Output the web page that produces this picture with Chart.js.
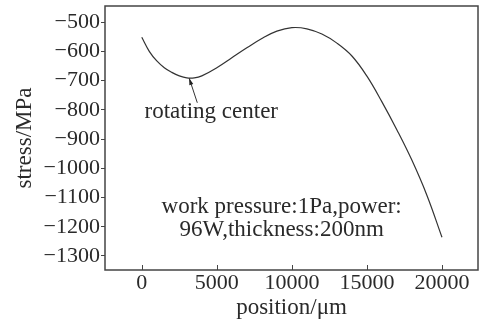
<!DOCTYPE html>
<html>
<head>
<meta charset="utf-8">
<script src="https://cdn.jsdelivr.net/npm/chart.js@4.4.1/dist/chart.umd.min.js"></script>
<style>
  html, body { margin: 0; padding: 0; background: #fff; }
  #wrap { width: 482px; height: 325px; }
</style>
</head>
<body>
<div id="wrap"><canvas id="c" width="482" height="325"></canvas></div>
<script>
const positions = [0, 500, 1000, 1500, 2000, 2500, 3000, 3500, 4000, 5000, 6000, 7000, 8000,
    9000, 10000, 11000, 12000, 13000, 14000, 15000, 16000, 17000, 18000, 19000, 20000];
const stress = [-552, -600, -633, -656, -672, -684, -691, -691, -684, -656, -622, -588, -556,
    -531, -519, -523, -541, -572, -616, -685, -773, -869, -973, -1093, -1236];
const xTicks = [0, 5000, 10000, 15000, 20000];
const yTicks = [-500, -600, -700, -800, -900, -1000, -1100, -1200, -1300];

// минимум кривой, хвост стрелки и подписи (в координатах данных)
const arrowHead = [3160, -692];
const arrowTail = [3700, -776];
const centerLabel = { text: 'rotating center', x: 4630, y: -807 };
const noteLines = ['work pressure:1Pa,power:', '96W,thickness:200nm'];
const noteX = 9320;
const noteY = [-1133, -1212];

const FONT = "'Liberation Serif', 'DejaVu Serif', serif";
const INK = '#2a2a2a';

Chart.defaults.font.family = FONT;
Chart.defaults.color = INK;

const decor = {
    id: 'decor',
    afterDraw(chart) {
        const ctx = chart.ctx;
        const a = chart.chartArea;
        const xs = chart.scales.x, ys = chart.scales.y;
        ctx.save();

        // рамка
        ctx.strokeStyle = '#444';
        ctx.lineWidth = 1.5;
        ctx.strokeRect(a.left, a.top, a.right - a.left, a.bottom - a.top);

        // засечки оси X внутрь
        ctx.lineWidth = 1;
        ctx.beginPath();
        xTicks.forEach(v => {
            const px = Math.round(xs.getPixelForValue(v)) + 0.5;
            ctx.moveTo(px, a.bottom);
            ctx.lineTo(px, a.bottom - 5);
        });
        ctx.stroke();

        // стрелка
        const hx = xs.getPixelForValue(arrowHead[0]), hy = ys.getPixelForValue(arrowHead[1]);
        const tx = xs.getPixelForValue(arrowTail[0]), ty = ys.getPixelForValue(arrowTail[1]);
        ctx.strokeStyle = '#333';
        ctx.lineWidth = 1;
        ctx.beginPath();
        ctx.moveTo(tx, ty);
        ctx.lineTo(hx, hy);
        ctx.stroke();
        const ang = Math.atan2(hy - ty, hx - tx);
        ctx.fillStyle = '#222';
        ctx.beginPath();
        ctx.moveTo(hx, hy);
        ctx.lineTo(hx - 7 * Math.cos(ang - 0.3), hy - 7 * Math.sin(ang - 0.3));
        ctx.lineTo(hx - 7 * Math.cos(ang + 0.3), hy - 7 * Math.sin(ang + 0.3));
        ctx.closePath();
        ctx.fill();

        // подписи
        ctx.fillStyle = INK;
        ctx.font = '23px ' + FONT;
        ctx.textAlign = 'center';
        ctx.textBaseline = 'middle';
        ctx.fillText(centerLabel.text, xs.getPixelForValue(centerLabel.x), ys.getPixelForValue(centerLabel.y));
        noteLines.forEach((t, i) => {
            ctx.fillText(t, xs.getPixelForValue(noteX), ys.getPixelForValue(noteY[i]));
        });
        ctx.restore();
    }
};

new Chart(document.getElementById('c').getContext('2d'), {
    type: 'line',
    data: {
        datasets: [{
            data: positions.map((p, i) => ({ x: p, y: stress[i] })),
            borderColor: '#333',
            borderWidth: 1.2,
            pointRadius: 0,
            fill: false,
            tension: 0.4
        }]
    },
    options: {
        responsive: false,
        animation: false,
        layout: { padding: { top: 6, right: 4, left: 0, bottom: 0 } },
        plugins: { legend: { display: false }, tooltip: { enabled: false } },
        scales: {
            x: {
                type: 'linear',
                min: -2450,
                max: 22400,
                afterBuildTicks: s => { s.ticks = xTicks.map(v => ({ value: v })); },
                afterFit: s => { s.height = 55; s.paddingLeft = 0; s.paddingRight = 0; },
                grid: { display: false, drawTicks: false },
                border: { display: false },
                ticks: {
                    font: { size: 22 },
                    padding: 0,
                    maxRotation: 0,
                    autoSkip: false,
                    callback: v => String(v)
                },
                title: {
                    display: true,
                    text: 'position/μm',
                    font: { size: 23 },
                    padding: { top: 0, bottom: 3 }
                }
            },
            y: {
                min: -1348,
                max: -445,
                afterBuildTicks: s => { s.ticks = yTicks.map(v => ({ value: v })); },
                afterFit: s => { s.width = 105; s.paddingTop = 0; s.paddingBottom = 0; },
                grid: { drawOnChartArea: false, tickLength: 4, color: '#444', lineWidth: 1 },
                border: { display: false },
                ticks: {
                    font: { size: 22 },
                    padding: 1,
                    autoSkip: false,
                    callback: v => String(v).replace('-', '\u2212')
                },
                title: {
                    display: true,
                    text: 'stress/MPa',
                    font: { size: 23 },
                    padding: { top: 11, bottom: 0 }
                }
            }
        }
    },
    plugins: [decor]
});
</script>
</body>
</html>
